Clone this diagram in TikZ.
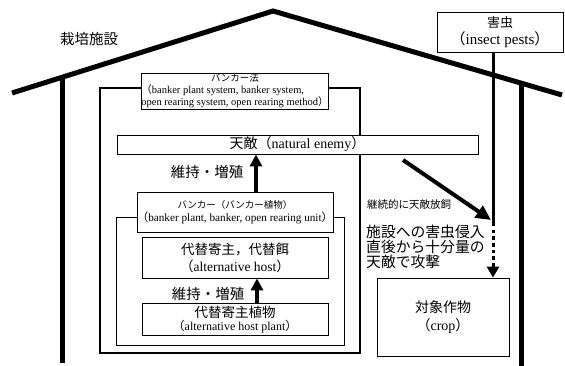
\documentclass[tikz,border=0pt]{standalone}
\usepackage{fontspec}
\setmainfont{Liberation Serif}
\newfontfamily\jp{Noto Sans CJK JP}
\usetikzlibrary{arrows.meta,calc}
\begin{document}
\begin{tikzpicture}[x=1pt,y=-1pt,
  wall/.style={line width=5pt,line join=miter},
  lbl/.style={draw,line width=0.8pt,fill=white,inner sep=0pt,align=center},
  frame/.style={draw,line width=#1,inner sep=0pt},
  bigarrow/.style={line width=3.5pt,-{Triangle[length=12pt,width=12pt]}},
  diagarrow/.style={line width=4pt,-{Triangle[length=15pt,width=14pt]}},
  pestline/.style={line width=3pt},
  txt/.style={inner sep=0pt,align=center}
]
\useasboundingbox (0,0) rectangle (565,366);

% house
\coordinate (roofL) at (12,93);
\coordinate (apex) at (273,11);
\coordinate (roofR) at (562,95);
\coordinate (wl1) at (62,78);
\coordinate (wl2) at (62,363);
\coordinate (wr1) at (521,83);
\coordinate (wr2) at (521,366);
\draw[wall] (roofL) -- (apex) -- (roofR);
\draw[wall] (wl1) -- (wl2);
\draw[wall] (wr1) -- (wr2);
\node[txt,font=\jp\fontsize{14.5}{16}\selectfont] (facility) at (89,39) {栽培施設};

% frames
\node[frame=1.3pt,minimum width=260pt,minimum height=265pt] (bmframe) at (230,220.5) {};
\node[frame=0.8pt,minimum width=228pt,minimum height=128pt] (bframe) at (230,281) {};

% label boxes
\node[lbl,minimum width=186pt,minimum height=36pt,
  font=\fontsize{10.5}{10.5}\selectfont] (bmlabel) at (235,91)
  {\renewcommand{\arraystretch}{0.9}\begin{tabular}{@{}l@{}}\multicolumn{1}{@{}c@{}}{\jp\fontsize{9.5}{10.5}\selectfont バンカー法}\\{\jp （}banker plant system, banker system,\\open rearing system, open rearing method{\jp ）}\end{tabular}};
\node[lbl,minimum width=361pt,minimum height=19pt,font=\fontsize{14}{15}\selectfont] (enemy) at (297.5,144.5)
  {{\jp 天敵（}natural enemy{\jp ）}};
\node[lbl,minimum width=186pt,minimum height=40pt,font=\fontsize{11.2}{13}\selectfont] (banker) at (235,212)
  {{\jp\fontsize{9.5}{13}\selectfont バンカー（バンカー植物）}\\{\jp （}banker plant, banker, open rearing unit{\jp ）}};
\node[lbl,minimum width=186pt,minimum height=41pt,font=\fontsize{13.5}{17}\selectfont] (althost) at (235,257.5)
  {{\jp\fontsize{13.5}{17}\selectfont 代替寄主，代替餌}\\{\jp （}alternative host{\jp ）}};
\node[lbl,minimum width=186pt,minimum height=32pt,font=\fontsize{12}{13.5}\selectfont] (altplant) at (235,319.5)
  {{\jp\fontsize{13.5}{13.5}\selectfont 代替寄主植物}\\{\jp （}alternative host plant{\jp ）}};

% up arrows
\coordinate (ax1) at (256,0);
\coordinate (ax2) at (257,0);
\draw[bigarrow] (banker.north -| ax1) -- (enemy.south -| ax1);
\draw[bigarrow] (altplant.north -| ax2) -- (althost.south -| ax2);
\node[txt,font=\jp\fontsize{14.5}{16}\selectfont] (keep1) at (207,172) {維持・増殖};
\node[txt,font=\jp\fontsize{14.5}{16}\selectfont] (keep2) at (208,294) {維持・増殖};

% pests and crop
\node[lbl,minimum width=126pt,minimum height=40pt,font=\fontsize{15}{17}\selectfont] (pest) at (500,32)
  {{\jp\fontsize{13}{17}\selectfont 害虫}\\{\jp （}insect pests{\jp ）}};
\node[lbl,minimum width=132pt,minimum height=78pt,font=\fontsize{14}{18}\selectfont] (crop) at (443,317)
  {{\jp 対象作物}\\{\jp （}crop{\jp ）}};

\coordinate (px) at (493,0);
\coordinate (pbreak) at (493,223);
\draw[pestline] (pest.south -| px) -- (pbreak);
\draw[pestline,dash pattern=on 3.5pt off 3.2pt,-{Triangle[length=11pt,width=12pt]}] (pbreak) -- (crop.north -| px);

% release arrow
\coordinate (d1) at (403,160);
\coordinate (d2) at (491,220);
\draw[diagarrow] (d1) -- (d2);
\node[txt,anchor=west,font=\jp\fontsize{10.5}{12}\selectfont] (release) at (367,205) {継続的に天敵放飼};
\node[txt,anchor=north west,align=left,font=\jp\fontsize{14.8}{15}\selectfont] (attack) at (366,225)
  {施設への害虫侵入\\直後から十分量の\\天敵で攻撃};
\end{tikzpicture}
\end{document}
